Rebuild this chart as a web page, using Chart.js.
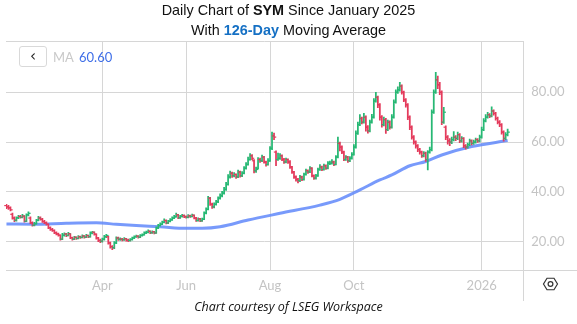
<!DOCTYPE html>
<html>
<head>
<meta charset="utf-8">
<script src="https://cdn.jsdelivr.net/npm/chart.js@4.4.1/dist/chart.umd.min.js"></script>
<style>
html,body{margin:0;padding:0;background:#fff;}
#wrap{position:relative;width:577px;height:324px;overflow:hidden;background:#fff;}
#c{position:absolute;left:0;top:0;}
.title{position:absolute;left:0;width:577px;text-align:center;font-family:'Liberation Sans',Arial,sans-serif;font-size:14.4px;line-height:16px;color:#111;white-space:nowrap;}
.title b.blue{color:#1570c4;}
#credit{position:absolute;left:0;top:298px;width:577px;text-align:center;font-family:'Open Sans','Lato',sans-serif;font-style:italic;font-size:12.5px;line-height:18px;color:#111;}
#btn{position:absolute;left:19px;top:46px;width:26px;height:19px;border:1px solid #d9d9d9;border-radius:3px;font-family:'DejaVu Sans',sans-serif;font-size:15px;line-height:18px;text-align:center;color:#222;}
#maLbl{position:absolute;left:53px;top:49px;font-family:'Lato',sans-serif;font-size:13px;line-height:16px;color:#c9c9c9;}
#maVal{position:absolute;left:79px;top:49px;font-family:'Lato',sans-serif;font-size:13px;line-height:16px;color:#3f6fe8;}
</style>
</head>
<body>
<div id="wrap">
<canvas id="c" width="577" height="324"></canvas>
<div class="title" style="top:2px">Daily Chart of <b>SYM</b> Since January 2025</div>
<div class="title" style="top:22px">With <b class="blue">126-Day</b> Moving Average</div>
<div id="btn">‹</div>
<div id="maLbl">MA</div>
<div id="maVal">60.60</div>
<div id="credit">Chart courtesy of LSEG Workspace</div>
</div>
<script>
// ---- Data (daily bars, index = trading day from late Jan 2025) ----
const open = [34.5,34.0,33.6,31.0,29.5,28.6,29.6,30.1,29.8,30.3,28.2,30.8,29.5,27.6,26.6,27.2,28.6,29.5,29.0,28.1,
27.6,27.0,25.6,24.9,24.5,23.6,23.1,22.6,21.0,22.6,23.1,22.5,23.2,21.6,21.0,21.8,21.3,22.0,21.7,22.3,
21.8,22.5,22.0,23.5,23.8,23.0,21.5,20.5,20.2,21.0,22.0,22.0,19.5,18.0,17.6,19.5,21.5,21.0,21.0,20.8,
21.2,20.6,20.5,20.9,21.5,22.0,22.2,21.8,22.5,22.8,23.5,23.8,24.2,23.6,24.0,23.5,25.5,26.5,27.0,27.8,
28.5,27.5,28.2,28.8,29.5,30.0,30.8,29.6,30.2,30.5,30.0,29.8,30.4,30.1,30.6,29.5,28.5,29.2,28.4,29.0,
31.5,33.0,37.5,35.0,34.0,35.0,36.0,37.5,38.5,39.5,41.0,43.0,46.0,47.5,46.5,47.0,46.0,48.0,46.5,47.5,
49.5,51.0,53.0,54.5,52.5,48.5,49.5,53.0,52.5,54.0,52.0,51.0,52.5,57.5,62.5,56.0,53.0,53.5,54.5,53.0,
52.0,53.0,52.0,50.0,48.0,46.0,45.0,44.5,46.0,45.0,47.0,48.5,48.0,49.5,46.5,45.5,46.5,49.0,50.0,49.0,
50.5,49.5,51.5,51.5,52.0,51.0,54.0,59.5,58.0,56.0,53.0,54.0,52.5,53.5,55.0,58.0,63.5,67.0,69.5,68.0,
70.0,66.0,64.5,68.0,70.0,76.5,78.0,75.0,70.0,67.0,69.0,65.0,68.0,66.0,70.0,76.0,80.0,81.0,82.5,80.0,
77.0,75.0,70.0,66.0,62.0,60.0,58.5,57.0,56.0,54.5,55.5,53.0,56.0,57.0,72.0,80.0,85.0,83.0,80.0,68.0,
66.0,62.0,60.5,60.0,61.0,62.0,61.5,63.0,60.5,61.5,58.5,58.0,59.0,60.5,59.5,60.0,61.0,60.5,62.0,65.0,
68.5,70.0,71.0,70.5,72.5,71.5,69.5,68.0,67.0,64.0,61.5,63.0];
const high = [35.0,34.6,34.0,31.5,30.0,30.0,30.6,30.6,31.0,30.5,31.2,32.0,30.0,28.0,27.8,29.0,30.2,30.0,29.4,28.6,
28.0,27.2,26.0,25.4,24.8,24.0,23.5,22.8,23.4,23.6,23.4,23.8,23.3,21.9,22.2,22.0,22.5,22.3,22.8,22.5,
23.0,22.7,24.0,24.2,24.0,23.2,21.8,21.0,21.5,22.6,23.0,22.3,19.8,18.4,20.0,22.0,21.9,21.6,21.4,21.7,
21.4,21.0,21.3,21.9,22.4,22.7,22.5,22.9,23.2,24.0,24.3,24.8,24.4,24.4,24.2,26.0,27.0,27.6,28.3,29.2,
28.8,28.6,29.3,30.0,30.6,31.5,31.0,30.6,31.0,30.8,30.4,30.9,30.7,31.1,30.8,29.8,29.6,29.4,29.5,32.0,
33.6,38.2,37.8,35.5,35.6,36.6,38.0,39.2,40.2,41.8,43.8,47.0,48.4,48.0,47.8,47.3,48.8,48.4,48.2,50.2,
51.8,54.0,55.4,55.0,53.0,50.0,53.8,53.6,54.8,54.3,52.4,53.4,58.2,64.0,63.6,56.5,55.6,55.4,54.9,53.5,
53.6,53.3,52.6,50.3,48.3,46.5,45.4,46.7,46.4,47.6,49.2,48.9,50.2,49.8,46.9,47.1,49.6,51.0,50.4,51.2,
50.9,52.2,52.4,53.0,52.4,54.6,62.0,60.0,58.5,56.4,54.6,54.3,54.2,55.8,59.0,64.5,68.0,71.0,70.0,71.6,
70.5,66.6,68.8,71.2,77.5,80.0,78.5,75.5,70.6,70.0,69.5,68.8,68.5,71.0,77.0,81.0,82.2,84.0,83.0,80.5,
77.5,75.5,70.5,66.5,62.6,60.5,59.0,57.5,56.4,56.2,56.0,56.6,58.0,73.0,81.0,88.0,86.5,84.0,80.6,74.0,
66.5,62.6,61.4,62.0,64.2,62.6,64.0,63.4,62.2,61.8,59.0,59.6,61.2,60.9,60.8,61.6,61.4,62.8,66.0,69.4,
71.0,72.0,71.5,74.2,73.0,72.0,70.0,68.6,67.4,64.5,63.8,65.2];
const low = [33.3,33.0,32.4,29.0,28.0,28.2,29.2,29.4,29.5,27.8,28.0,30.4,27.2,26.2,26.3,27.0,28.3,28.6,27.7,27.2,
26.6,25.2,24.5,24.1,23.2,22.7,22.2,20.6,20.8,22.2,22.0,22.3,21.2,20.6,20.8,20.9,21.1,21.3,21.5,21.4,
21.6,21.6,21.8,23.1,22.6,21.0,20.0,19.6,19.8,20.6,21.6,19.0,17.4,16.8,17.2,19.2,20.5,20.5,20.3,20.5,
20.2,20.0,20.2,20.6,21.2,21.7,21.4,21.6,22.2,22.6,23.2,23.5,23.2,23.3,23.1,23.3,25.2,26.2,26.8,27.5,
27.1,27.2,27.9,28.5,29.2,29.8,29.2,29.3,29.8,29.6,29.4,29.5,29.7,29.9,29.1,28.1,28.2,28.0,28.1,28.8,
31.2,32.8,34.6,33.4,33.6,34.7,35.7,37.1,38.0,39.1,40.6,42.7,45.5,45.8,46.0,45.4,45.7,45.9,46.1,47.2,
49.1,50.7,52.7,52.9,47.6,47.8,49.2,51.8,52.1,51.5,50.3,50.7,52.2,57.0,61.0,50.5,52.6,53.0,52.5,51.4,
51.6,51.4,49.4,47.4,45.4,44.3,43.6,44.1,44.5,44.7,46.7,47.4,47.7,46.0,45.0,45.1,46.2,48.6,48.5,48.7,
49.0,49.2,50.9,51.1,50.5,50.8,53.6,56.5,55.4,52.5,52.6,51.8,52.1,53.1,54.7,57.6,63.1,66.6,67.3,67.6,
64.4,63.6,64.1,67.6,69.6,76.0,73.8,68.8,66.0,66.5,63.5,64.6,65.2,65.6,69.6,75.6,79.5,80.5,79.2,76.2,
74.0,69.0,65.0,61.2,59.2,57.6,56.2,55.2,53.8,54.0,52.2,48.8,55.6,56.5,71.5,79.5,81.5,79.0,67.0,67.5,
61.0,59.2,58.6,59.4,60.5,60.6,61.0,59.8,60.0,57.8,57.2,57.6,58.6,58.9,59.1,59.6,59.9,60.1,61.6,64.6,
68.1,69.6,69.8,70.1,70.8,68.8,67.3,66.2,63.2,60.4,61.0,62.5];
const close = [34.0,33.6,32.8,29.5,28.6,29.6,30.1,29.8,30.3,28.2,30.8,31.4,27.6,26.6,27.2,28.6,29.5,29.0,28.1,27.6,
27.0,25.6,24.9,24.5,23.6,23.1,22.6,21.0,22.6,23.1,22.5,23.2,21.6,21.0,21.8,21.3,22.0,21.7,22.3,21.8,
22.5,22.0,23.5,23.8,23.0,21.5,20.5,20.2,21.0,22.0,22.5,19.5,18.0,17.6,19.5,21.5,21.0,21.0,20.8,21.2,
20.6,20.5,20.9,21.5,22.0,22.2,21.8,22.5,22.8,23.5,23.8,24.2,23.6,24.0,23.5,25.5,26.5,27.0,27.8,28.5,
27.5,28.2,28.8,29.5,30.0,30.8,29.6,30.2,30.5,30.0,29.8,30.4,30.1,30.6,29.5,28.5,29.2,28.4,29.0,31.5,
33.0,37.5,35.0,34.0,35.0,36.0,37.5,38.5,39.5,41.0,43.0,46.0,47.5,46.5,47.0,46.0,48.0,46.5,47.5,49.5,
51.0,53.0,54.5,53.5,48.5,49.0,53.0,52.5,54.0,52.0,51.0,52.5,57.5,62.5,62.0,53.0,53.5,54.5,53.0,52.0,
53.0,52.0,50.0,48.0,46.0,45.0,44.5,46.0,45.0,47.0,48.5,48.0,49.5,46.5,45.5,46.5,49.0,50.0,49.0,50.5,
49.5,51.5,51.5,52.0,51.0,54.0,59.5,58.0,56.0,53.0,54.0,52.5,53.5,55.0,58.0,63.5,67.0,69.5,68.0,70.0,
66.0,64.5,68.0,70.0,76.5,78.0,75.0,70.0,67.0,69.0,65.0,68.0,66.0,70.0,76.0,80.0,81.0,82.5,80.0,77.0,
75.0,70.0,66.0,62.0,60.0,58.5,57.0,56.0,54.5,55.5,53.0,56.0,57.0,72.0,80.0,85.0,83.0,80.0,68.0,72.0,
62.0,60.5,60.0,61.0,62.0,61.5,63.0,60.5,61.5,58.5,58.0,59.0,60.5,59.5,60.0,61.0,60.5,62.0,65.0,68.5,
70.0,71.0,70.5,72.5,71.5,69.5,68.0,67.0,64.0,61.5,63.0,64.0];

// 126-day moving average, read at selected bars
const maIdx = [0,14,30,45,55,65,77,90,98,107,121,137,157,167,177,187,193,202,210,218,233,251];
const maVal = [27.1,27.0,27.4,27.6,27.0,26.5,26.0,25.4,25.4,26.0,28.7,31.4,34.7,37.0,40.8,44.8,46.8,50.5,52.2,54.8,58.2,60.6];

// x-axis ticks (bar index of first trading day of month) and labels
const tickPos = [48, 90, 132, 174, 238];
const tickLabels = ['Apr', 'Jun', 'Aug', 'Oct', '2026'];
const yTicks = [20, 40, 60, 80];

const GREEN = '#27b874', RED = '#e43b5c', GRID = '#d6d6d6', LABEL = '#c4c4c4';
const barColors = close.map((c, i) => c >= open[i] ? GREEN : RED);

const ohlcTicks = {
  id: 'ohlcTicks',
  afterDatasetsDraw(chart) {
    const xs = chart.scales.x, ys = chart.scales.y, ctx = chart.ctx;
    ctx.save();
    for (let i = 0; i < close.length; i++) {
      const x = xs.getPixelForValue(i);
      ctx.fillStyle = barColors[i];
      ctx.fillRect(x - 2.2, ys.getPixelForValue(open[i]) - 0.6, 2.2, 1.2);
      ctx.fillRect(x, ys.getPixelForValue(close[i]) - 0.6, 2.2, 1.2);
    }
    ctx.restore();
  }
};

const frame = {
  id: 'frame',
  beforeDatasetsDraw(chart) {
    const a = chart.chartArea, ctx = chart.ctx;
    ctx.save();
    ctx.strokeStyle = GRID; ctx.lineWidth = 1;
    ctx.beginPath();
    ctx.moveTo(a.left, 41.5); ctx.lineTo(a.right, 41.5);
    ctx.moveTo(a.left, 270.5); ctx.lineTo(577, 270.5);
    ctx.moveTo(523.5, 41); ctx.lineTo(523.5, 301);
    ctx.stroke();
    ctx.restore();
  },
  afterDraw(chart) {
    const ctx = chart.ctx;
    ctx.save();
    ctx.strokeStyle = '#333'; ctx.lineWidth = 1.2;
    const cx = 550.5, cy = 284, r = 7;
    ctx.beginPath();
    for (let k = 0; k < 6; k++) {
      const ang = Math.PI / 3 * k;
      const px = cx + r * Math.cos(ang), py = cy + r * Math.sin(ang) * 0.95;
      if (k === 0) ctx.moveTo(px, py); else ctx.lineTo(px, py);
    }
    ctx.closePath(); ctx.stroke();
    ctx.beginPath(); ctx.arc(cx, cy, 2.4, 0, Math.PI * 2); ctx.stroke();
    ctx.restore();
  }
};

new Chart(document.getElementById('c'), {
  type: 'bar',
  data: {
    datasets: [
      {
        type: 'bar',
        label: 'SYM',
        data: close.map((c, i) => ({ x: i, y: [low[i], high[i]] })),
        backgroundColor: barColors,
        borderWidth: 0,
        barThickness: 1.1,
        order: 1
      },
      {
        type: 'line',
        label: 'MA',
        data: maIdx.map((x, k) => ({ x: x, y: maVal[k] })),
        borderColor: 'rgba(96,136,250,0.85)',
        borderWidth: 3,
        pointRadius: 0,
        tension: 0.4,
        cubicInterpolationMode: 'monotone',
        fill: false,
        order: 2
      }
    ]
  },
  options: {
    responsive: false,
    animation: false,
    devicePixelRatio: 1,
    layout: { padding: { left: 6, top: 41.5, right: 0, bottom: 0 } },
    plugins: { legend: { display: false }, tooltip: { enabled: false }, title: { display: false } },
    scales: {
      x: {
        type: 'linear',
        offset: false,
        min: -0.23,
        max: 258.84,
        afterBuildTicks: s => { s.ticks = tickPos.map(v => ({ value: v })); },
        afterFit: s => { s.height = 324 - 270.7; },
        ticks: {
          autoSkip: false, maxRotation: 0,
          callback: (v, i) => tickLabels[i],
          color: LABEL, font: { family: 'Lato', size: 13 }, padding: 7
        },
        grid: { color: GRID, drawTicks: false, offset: false },
        border: { display: false }
      },
      y: {
        position: 'right',
        min: 8.35,
        max: 100.4,
        afterBuildTicks: s => { s.ticks = yTicks.map(v => ({ value: v })); },
        afterFit: s => { s.width = 577 - 523.3; },
        ticks: {
          callback: v => Number(v).toFixed(2),
          color: LABEL, font: { family: 'Lato', size: 13 }, padding: 8
        },
        grid: { color: GRID, drawTicks: false },
        border: { display: false }
      }
    }
  },
  plugins: [frame, ohlcTicks]
});
</script>
</body>
</html>
